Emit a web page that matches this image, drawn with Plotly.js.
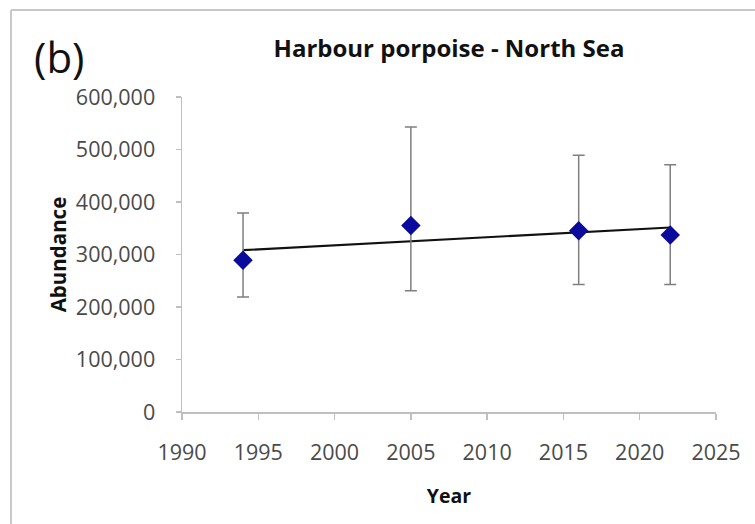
<!DOCTYPE html>
<html>
<head>
<meta charset="utf-8">
<script src="https://cdn.plot.ly/plotly-3.0.1.min.js"></script>
<style>
html,body{margin:0;padding:0;background:#fff;}
#chart{width:755px;height:524px;}
</style>
</head>
<body>
<div id="chart"></div>
<script>
// Data
const years = [1994, 2005, 2016, 2022];
const abundance = [289150, 355400, 345400, 337000];
const ciLower = [219000, 231000, 243000, 243000];
const ciUpper = [379000, 543000, 489000, 471000];
const yTicks = [0, 100000, 200000, 300000, 400000, 500000, 600000];
const xTicks = [1990, 1995, 2000, 2005, 2010, 2015, 2020, 2025];

// Linear trend (least squares) through the estimates
const n = years.length;
const mx = years.reduce((a, b) => a + b, 0) / n;
const my = abundance.reduce((a, b) => a + b, 0) / n;
let sxy = 0, sxx = 0;
for (let i = 0; i < n; i++) { sxy += (years[i] - mx) * (abundance[i] - my); sxx += (years[i] - mx) ** 2; }
const slope = sxy / sxx, icpt = my - slope * mx;
const trendX = [years[0], years[n - 1]];
const trendY = trendX.map(x => icpt + slope * x);

const W = 755, H = 524;
const M = {l: 182, r: 39, t: 97, b: 112, pad: 0};
const pw = W - M.l - M.r, ph = H - M.t - M.b;
const px = x => (x - M.l) / pw;
const py = y => (H - M.b - y) / ph;

const font = '"Open Sans", "Noto Sans", sans-serif';

const traces = [
  {
    x: trendX, y: trendY, type: 'scatter', mode: 'lines',
    line: {color: '#111111', width: 2.2}, hoverinfo: 'skip', showlegend: false
  },
  {
    x: years, y: abundance, type: 'scatter', mode: 'markers',
    marker: {symbol: 'diamond', size: 15, color: '#0a0a9c'},
    error_y: {
      type: 'data', symmetric: false,
      array: abundance.map((v, i) => ciUpper[i] - v),
      arrayminus: abundance.map((v, i) => v - ciLower[i]),
      color: '#7f7f7f', thickness: 1.5, width: 6
    },
    showlegend: false
  }
];

const layout = {
  width: W, height: H,
  margin: M,
  paper_bgcolor: '#ffffff', plot_bgcolor: '#ffffff',
  font: {family: font, color: '#4a4a4a'},
  showlegend: false,
  title: {
    text: '<b>Harbour porpoise - North Sea</b>',
    font: {family: font, size: 24, color: '#111111'},
    x: 0.5, xref: 'paper', xanchor: 'center',
    y: 1 - 49 / H, yref: 'container', yanchor: 'middle'
  },
  xaxis: {
    range: [1990, 2025], tickvals: xTicks, ticktext: xTicks.map(String),
    showgrid: false, zeroline: false,
    showline: true, linecolor: '#bfbfbf', linewidth: 1.5,
    ticks: 'outside', ticklen: 6, tickcolor: '#bfbfbf', tickwidth: 1.5,
    tickfont: {family: font, size: 21.5, color: '#4a4a4a'},
    ticklabelstandoff: 15,
    title: {text: '<b>Year</b>', font: {family: font, size: 19.5, color: '#111111'}, standoff: 24}
  },
  yaxis: {
    range: [0, 600000], tickvals: yTicks, ticktext: yTicks.map(v => v.toLocaleString('en-US')),
    showgrid: false, zeroline: false,
    showline: true, linecolor: '#bfbfbf', linewidth: 1.5,
    ticks: 'outside', ticklen: 5, tickcolor: '#bfbfbf', tickwidth: 1.5,
    tickfont: {family: font, size: 21.5, color: '#4a4a4a'},
    ticklabelstandoff: 16,
    title: {text: '<b>Abundance</b>', font: {family: font, size: 20.5, color: '#111111'}, standoff: 3}
  },
  annotations: [
    {
      text: '(b)', xref: 'paper', yref: 'paper',
      x: px(32), y: py(56), xanchor: 'left', yanchor: 'middle',
      showarrow: false, font: {family: font, size: 42, color: '#111111'}
    }
  ],
  shapes: [
    {type: 'line', xref: 'paper', yref: 'paper', x0: px(11), x1: px(W + 5), y0: py(10), y1: py(10),
     line: {color: '#c8c8c8', width: 2}},
    {type: 'line', xref: 'paper', yref: 'paper', x0: px(11), x1: px(11), y0: py(10), y1: py(H + 5),
     line: {color: '#c8c8c8', width: 2}}
  ]
};

Plotly.newPlot('chart', traces, layout, {displayModeBar: false, staticPlot: true});
</script>
</body>
</html>
